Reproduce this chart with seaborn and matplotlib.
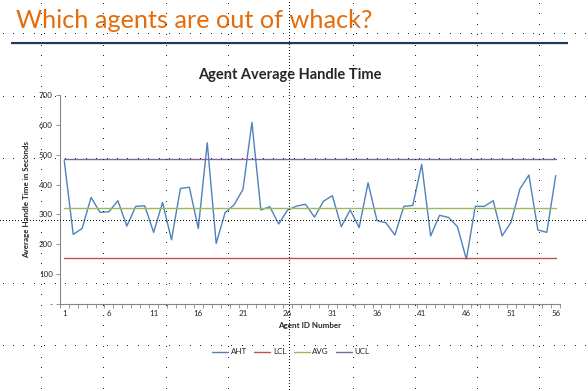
import matplotlib
matplotlib.use("Agg")
import matplotlib.pyplot as plt
import numpy as np
import pandas as pd
import seaborn as sns

# data
agents = list(range(1, 57))
aht = [480, 233, 253, 357, 307, 309, 346, 261, 327, 329,
       240, 340, 215, 387, 391, 253, 540, 203, 306, 332,
       384, 608, 315, 326, 268, 315, 328, 334, 291, 344,
       363, 259, 315, 256, 406, 279, 272, 231, 327, 330,
       468, 228, 297, 290, 259, 150, 327, 327, 346, 228,
       274, 386, 432, 248, 240, 430]
lcl = [153] * len(agents)
avg = [320] * len(agents)
ucl = [485] * len(agents)
series_names = ["AHT", "LCL", "AVG", "UCL"]
series_colors = ["#4F81BD", "#C0504D", "#9BBB59", "#8064A2"]
y_ticks = [0, 100, 200, 300, 400, 500, 600, 700]
y_tick_labels = ["-", "100", "200", "300", "400", "500", "600", "700"]
x_ticks = list(range(1, 57, 5))

df = pd.DataFrame({"Agent": agents * 4,
                   "value": aht + lcl + avg + ucl,
                   "series": [s for s in series_names for _ in agents]})

sns.set_theme(style="white")
plt.rcParams["font.family"] = ["Lato", "DejaVu Sans"]

W, H = 588, 391
fig = plt.figure(figsize=(W / 100, H / 100), dpi=100)
fig.patch.set_facecolor("white")

# slide title and rule
fig.text(16 / W, 1 - 28 / H, "Which agents are out of whack?", color="#E46C0A",
         fontsize=18.2, ha="left", va="baseline")
deco = fig.add_axes([0, 0, 1, 1], zorder=0)
deco.set_xlim(0, W)
deco.set_ylim(H, 0)
deco.axis("off")
deco.plot([11, 568], [44.4, 44.4], color="#E8E8E8", lw=0.7, solid_capstyle="butt")
deco.plot([11, 568], [42.7, 42.7], color="#1F3A5F", lw=1.5, solid_capstyle="butt")

# chart
l, r, t, b = 59.8, 560.2, 95, 304
ax = fig.add_axes([l / W, 1 - b / H, (r - l) / W, (b - t) / H], zorder=1)
ax.patch.set_alpha(0)
sns.lineplot(data=df, x="Agent", y="value", hue="series", hue_order=series_names,
             palette=series_colors, linewidth=1.0, ax=ax)
ax.set_xlim(0.5, 56.5)
ax.set_ylim(0, 700)
ax.set_yticks(y_ticks)
ax.set_yticklabels(y_tick_labels)
ax.set_xticks(x_ticks)
ax.set_xticks(np.arange(0.5, 57, 1), minor=True)
ax.tick_params(axis="x", which="major", length=0, labelsize=5.8, pad=4)
ax.tick_params(axis="x", which="minor", length=3, width=0.6, color="#868686", direction="out", bottom=True)
ax.tick_params(axis="y", length=3, width=0.6, color="#868686", direction="out", left=True, labelsize=5.8, pad=2)
for s in ["top", "right"]:
    ax.spines[s].set_visible(False)
for s in ["left", "bottom"]:
    ax.spines[s].set_color("#868686")
    ax.spines[s].set_linewidth(0.8)
ax.set_xlabel("Agent ID Number", fontsize=5.8, fontweight="bold", labelpad=4)
ax.set_ylabel("Average Handle Time in Seconds", fontsize=5.8, fontweight="bold", labelpad=6)
fig.text(290 / W, 1 - 75 / H, "Agent Average Handle Time", ha="center", va="center",
         fontsize=10.5, fontweight="bold")
leg = ax.legend(loc="center", bbox_to_anchor=(291 / W, 1 - 352 / H), bbox_transform=fig.transFigure,
                ncol=4, frameon=False, fontsize=5.8, handlelength=2.0, columnspacing=0.9,
                handletextpad=0.3)

# slide grid dots and guides on top
over = fig.add_axes([0, 0, 1, 1], zorder=5)
over.set_xlim(0, W)
over.set_ylim(H, 0)
over.axis("off")
cols = np.arange(41, W, 62.3)
rows = np.arange(34.3, H, 62.3)
ys = np.arange(4, H, 10.4)
xs = np.arange(2.5, W, 10.4)
for cx in cols:
    if abs(cx - 289.3) < 5:
        continue
    over.plot(np.full_like(ys, cx), ys, ",", color="#222222")
for ry in rows:
    if abs(ry - 221) < 5:
        continue
    over.plot(xs, np.full_like(xs, ry), ",", color="#222222")
gy = np.arange(0, H, 3)
gx = np.arange(0, W, 3)
over.plot(np.full_like(gy, 289.3, dtype=float), gy, ",", color="#111111")
over.plot(gx, np.full_like(gx, 221.0, dtype=float), ",", color="#111111")

fig.savefig("out.png", dpi=100)
